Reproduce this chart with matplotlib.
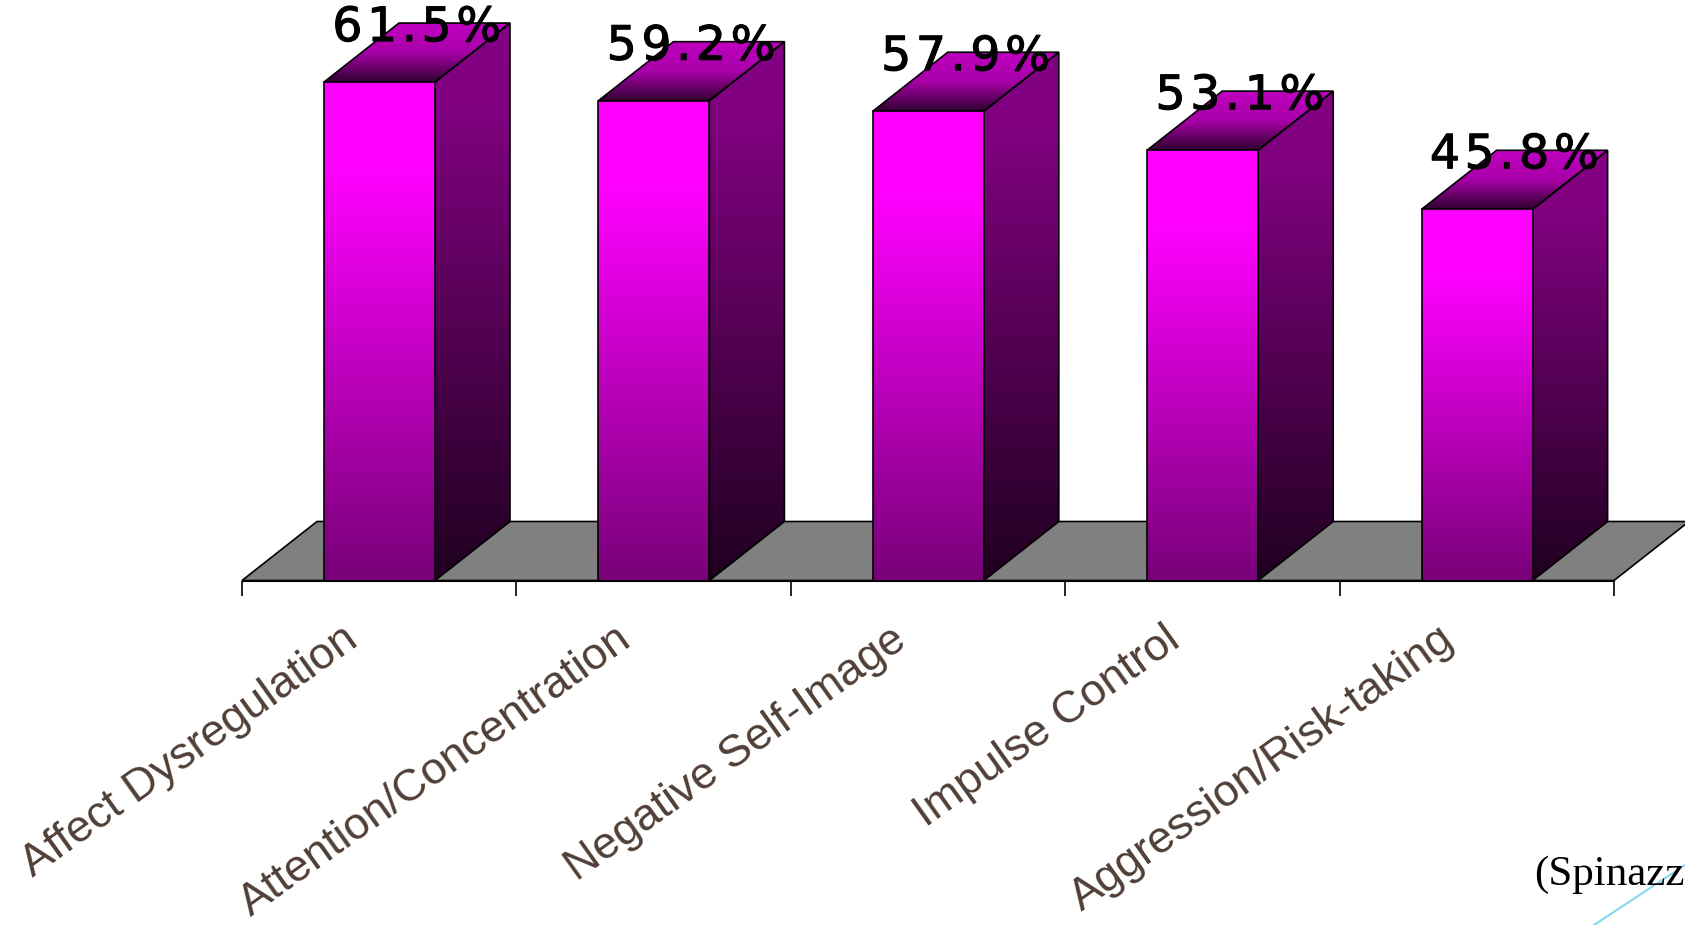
import numpy as np
import matplotlib
matplotlib.use("Agg")
import matplotlib.pyplot as plt
import matplotlib.patheffects as pe
from matplotlib.colors import LinearSegmentedColormap
from matplotlib.patches import Polygon
from matplotlib.lines import Line2D

# Datos del grafico
categories = ["Affect Dysregulation", "Attention/Concentration", "Negative Self-Image",
              "Impulse Control", "Aggression/Risk-taking"]
values = [61.5, 59.2, 57.9, 53.1, 45.8]
value_labels = ["61.5%", "59.2%", "57.9%", "53.1%", "45.8%"]
source_text = "(Spinazz"

# Escala: pixeles por categoria y por punto porcentual
FIG_W, FIG_H = 1685, 925
X0, Y0 = 242, 580.5
PX_X = 274.4
PX_Y = 8.105

# Profundidad de la caja y ancho de barra, en unidades de datos
DX = 75 / PX_X
DY = 59 / PX_Y
BAR_OFFSET = 82 / PX_X
BAR_W = 111 / PX_X

front_cmap = LinearSegmentedColormap.from_list(
    "front", [(0, "#ff00ff"), (0.18, "#ff00ff"), (1, "#780078")])
side_cmap = LinearSegmentedColormap.from_list(
    "side", [(0, "#840084"), (0.15, "#800080"), (1, "#200020")])
top_cmap = LinearSegmentedColormap.from_list("top", ["#c000c0", "#a800a8", "#300030"])

fig = plt.figure(figsize=(FIG_W / 100, FIG_H / 100), dpi=100)
ax = fig.add_axes([0, 0, 1, 1])
xlim = (-X0 / PX_X, (FIG_W - X0) / PX_X)
ylim = (-(FIG_H - Y0) / PX_Y, Y0 / PX_Y)

grad = np.linspace(0, 1, 256).reshape(-1, 1)


# Cara de la barra con degradado vertical recortado al poligono
def shaded_face(points, cmap, zorder):
    points = np.array(points)
    poly = Polygon(points, closed=True, facecolor="none", edgecolor="black",
                   linewidth=1.2, zorder=zorder + 0.1)
    ax.add_patch(poly)
    extent = (points[:, 0].min(), points[:, 0].max(), points[:, 1].min(), points[:, 1].max())
    im = ax.imshow(grad, cmap=cmap, extent=extent, origin="upper", aspect="auto",
                   vmin=0, vmax=1, zorder=zorder)
    im.set_clip_path(poly)


# Suelo gris
ax.add_patch(Polygon([(0, 0), (5, 0), (5 + DX, DY), (DX, DY)], closed=True,
                     facecolor="#808080", edgecolor="black", linewidth=1.2, zorder=1))

for i, v in enumerate(values):
    x = i + BAR_OFFSET
    shaded_face([(x, 0), (x + BAR_W, 0), (x + BAR_W, v), (x, v)], front_cmap, 3)
    shaded_face([(x + BAR_W, 0), (x + BAR_W + DX, DY), (x + BAR_W + DX, v + DY), (x + BAR_W, v)],
                side_cmap, 2)
    shaded_face([(x, v), (x + BAR_W, v), (x + BAR_W + DX, v + DY), (x + DX, v + DY)],
                top_cmap, 2)
    # Etiqueta de valor, con espacio fino entre caracteres para ensancharla
    ax.text(x + BAR_W / 2 + DX / 2, v + 41 / PX_Y, "\u200a".join(value_labels[i]),
            ha="center", va="baseline", fontsize=34, family="DejaVu Sans", color="black",
            zorder=6, path_effects=[pe.withStroke(linewidth=0.8, foreground="black")])
    ax.text(i + 0.36, -38 / PX_Y, categories[i], rotation=35.5, rotation_mode="anchor",
            ha="right", va="top", fontsize=32.4, family="Liberation Sans", color="#4f3f36")

# Eje inferior con marcas hacia fuera
ax.set_xlim(xlim)
ax.set_ylim(ylim)
for name in ["top", "left", "right"]:
    ax.spines[name].set_visible(False)
ax.spines["bottom"].set_position(("data", 0))
ax.spines["bottom"].set_bounds(0, 5)
ax.spines["bottom"].set_zorder(1.5)
ax.set_xticks(range(6))
ax.set_xticklabels([])
ax.set_yticks([])
ax.tick_params(axis="x", direction="out", length=10.8, width=1.2)
ax.patch.set_visible(False)

# Linea decorativa y cita en la esquina
fig.add_artist(Line2D([1594 / FIG_W, 1.0], [0.0, 60 / FIG_H], color="#87d7f0", linewidth=1.5))
fig.text(1534 / FIG_W, 1 - 885 / FIG_H, source_text, fontsize=31, family="Liberation Serif",
         color="black", ha="left", va="baseline")

fig.savefig("out.png", dpi=100)
